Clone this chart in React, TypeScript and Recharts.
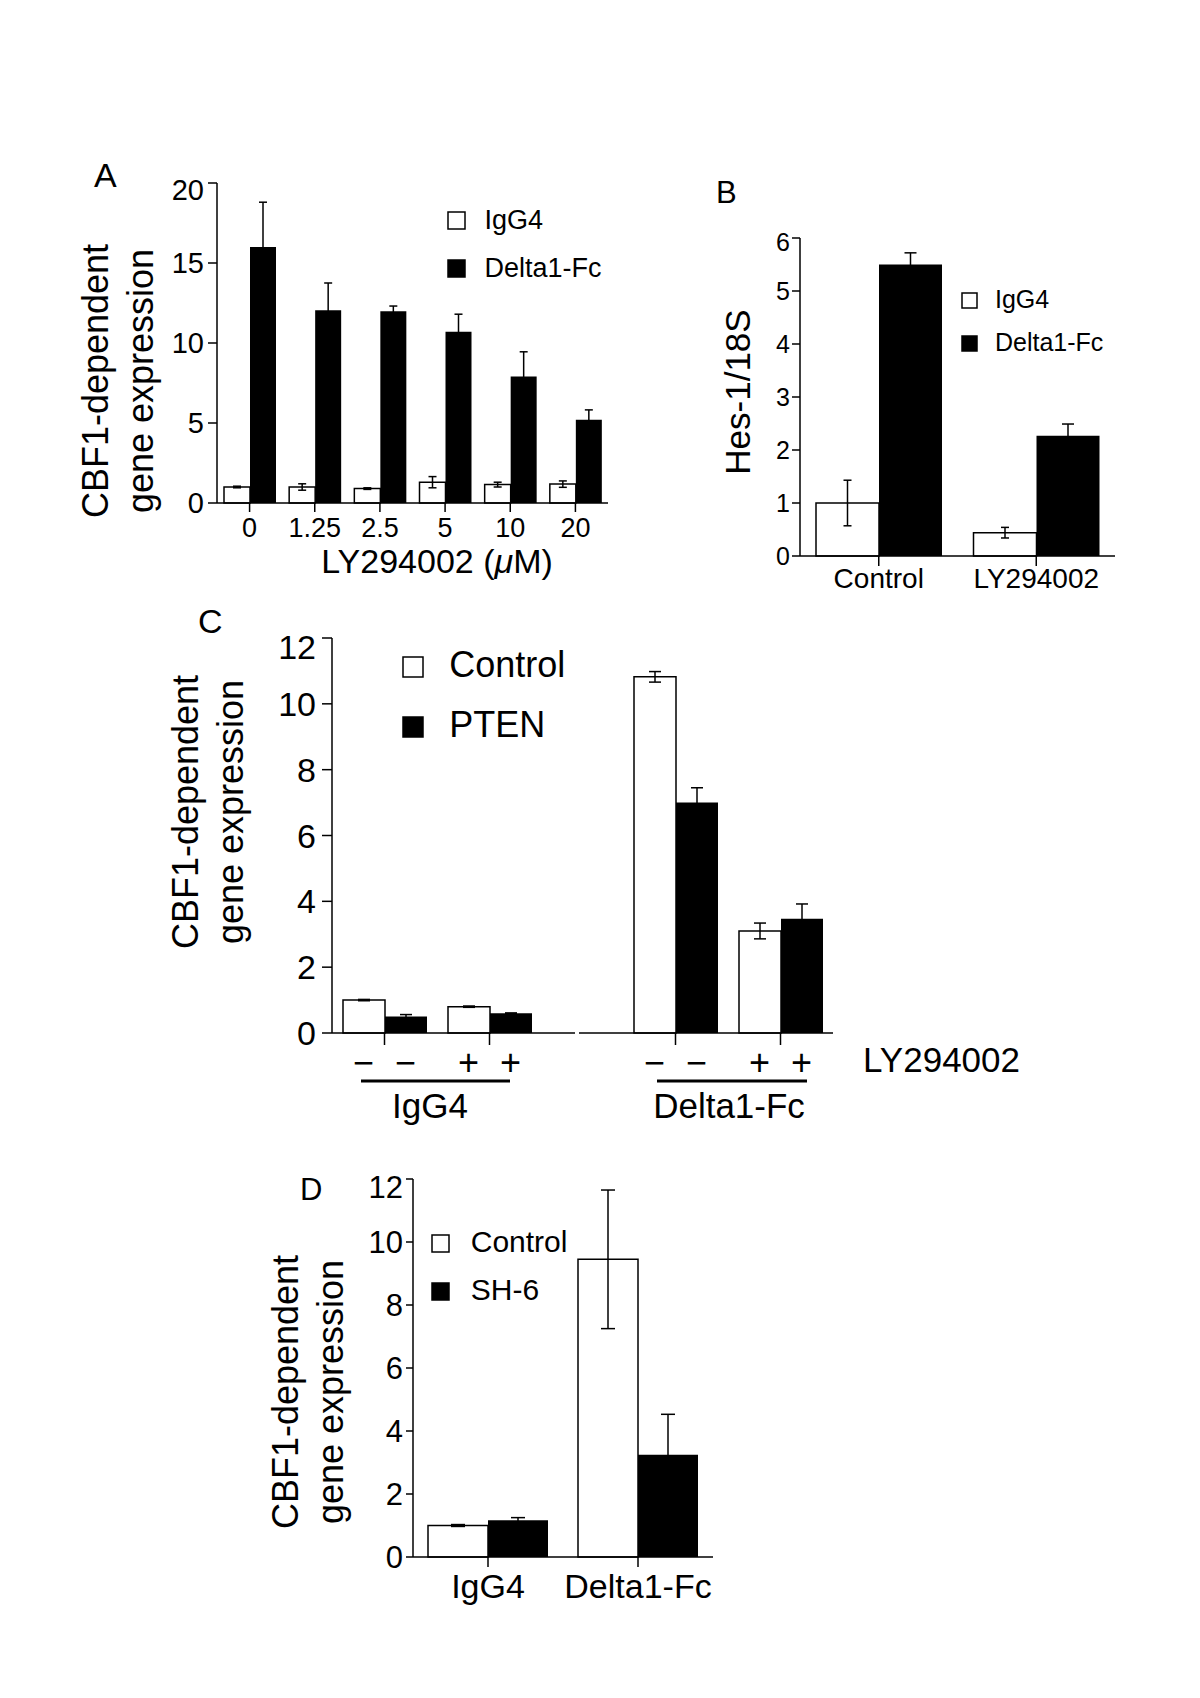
import { BarChart, Bar, XAxis, YAxis, ErrorBar } from 'recharts'

const FONT = '"Liberation Sans", Arial, Helvetica, sans-serif'

// A: CBF1 reporter vs LY294002 dose
const aDoses = ['0', '1.25', '2.5', '5', '10', '20']
const aIgg4 = [1.0, 1.0, 0.9, 1.3, 1.15, 1.18]
const aIgg4Err = [0.05, 0.2, 0.05, 0.35, 0.15, 0.2]
const aDelta = [16.0, 12.05, 11.98, 10.7, 7.9, 5.2]
const aDeltaErr = [2.8, 1.7, 0.33, 1.1, 1.55, 0.62]

// B: Hes-1/18S
const bGroups = ['Control', 'LY294002']
const bIgg4 = [1.0, 0.44]
const bIgg4Err = [0.43, 0.1]
const bDelta = [5.5, 2.27]
const bDeltaErr = [0.22, 0.22]

// C: Control vs PTEN, +/- LY294002
const cLigand = ['IgG4', 'IgG4', 'Delta1-Fc', 'Delta1-Fc']
const cLy = ['−', '+', '−', '+']
const cControl = [1.0, 0.8, 10.82, 3.1]
const cControlErr = [0.02, 0.02, 0.16, 0.24]
const cPten = [0.5, 0.6, 7.0, 3.47]
const cPtenErr = [0.06, 0.01, 0.45, 0.45]

// D: Control vs SH-6
const dGroups = ['IgG4', 'Delta1-Fc']
const dControl = [1.0, 9.45]
const dControlErr = [0.03, 2.2]
const dSh6 = [1.17, 3.25]
const dSh6Err = [0.08, 1.28]

const aData = aDoses.map((dose, i) => ({
  dose, igg4: aIgg4[i], igg4Err: aIgg4Err[i], delta: aDelta[i], deltaErr: aDeltaErr[i],
}))
const bData = bGroups.map((group, i) => ({
  group, igg4: bIgg4[i], igg4Err: bIgg4Err[i], delta: bDelta[i], deltaErr: bDeltaErr[i],
}))
const cData = cLigand.map((ligand, i) => ({
  key: `${ligand} ${cLy[i]}`, ly: cLy[i],
  control: cControl[i], controlErr: cControlErr[i], pten: cPten[i], ptenErr: cPtenErr[i],
}))
const dData = dGroups.map((group, i) => ({
  group, control: dControl[i], controlErr: dControlErr[i], sh6: dSh6[i], sh6Err: dSh6Err[i],
}))

const line = { stroke: '#000', strokeWidth: 1.5 }
const tickFont = (size: number) => ({ fill: '#000', fontSize: size, fontFamily: FONT })

const C_BAR = 42

function LyTick(props: any) {
  const { x, y, payload } = props
  const row = cData.find((r) => r.key === payload.value)
  return (
    <g>
      {[-C_BAR / 2, C_BAR / 2].map((dx) => (
        <text key={dx} x={x + dx} y={y + 30} textAnchor="middle" fontSize={36} fontFamily={FONT} fill="#000">
          {row ? row.ly : ''}
        </text>
      ))}
    </g>
  )
}

function PanelA() {
  return (
    <div style={{ position: 'absolute', left: 157, top: 173 }}>
      <BarChart width={461} height={410} data={aData} margin={{ top: 10, right: 10, bottom: 0, left: 0 }} barGap={0} barSize={26}>
        <XAxis dataKey="dose" interval={0} height={80} axisLine={line} tickLine={line} tickSize={9} tickMargin={6} tick={tickFont(27)} />
        <YAxis domain={[0, 20]} ticks={[0, 5, 10, 15, 20]} width={60} axisLine={line} tickLine={line} tickSize={9} tickMargin={4} tick={tickFont(29)} />
        <Bar dataKey="igg4" fill="#fff" stroke="#000" strokeWidth={1.5} isAnimationActive={false}>
          <ErrorBar dataKey="igg4Err" width={4} stroke="#000" strokeWidth={1.5} isAnimationActive={false} />
        </Bar>
        <Bar dataKey="delta" fill="#000" isAnimationActive={false}>
          <ErrorBar dataKey="deltaErr" width={4} stroke="#000" strokeWidth={1.5} isAnimationActive={false} />
        </Bar>
      </BarChart>
    </div>
  )
}

function PanelB() {
  return (
    <div style={{ position: 'absolute', left: 750, top: 228 }}>
      <BarChart width={375} height={388} data={bData} margin={{ top: 10, right: 10, bottom: 0, left: 0 }} barGap={0} barSize={63}>
        <XAxis dataKey="group" interval={0} height={60} axisLine={line} tickLine={line} tickSize={10} tickMargin={2} tick={tickFont(28)} />
        <YAxis domain={[0, 6]} ticks={[0, 1, 2, 3, 4, 5, 6]} width={50} axisLine={line} tickLine={line} tickSize={8} tickMargin={2} tick={tickFont(25)} />
        <Bar dataKey="igg4" fill="#fff" stroke="#000" strokeWidth={1.5} isAnimationActive={false}>
          <ErrorBar dataKey="igg4Err" width={4} stroke="#000" strokeWidth={1.5} isAnimationActive={false} />
        </Bar>
        <Bar dataKey="delta" fill="#000" isAnimationActive={false}>
          <ErrorBar dataKey="deltaErr" width={6} stroke="#000" strokeWidth={1.5} isAnimationActive={false} />
        </Bar>
      </BarChart>
    </div>
  )
}

// C has a broken x axis, so it is drawn as two charts sharing the y scale
function PanelCPart({ rows, left, width, showY, padding }: any) {
  return (
    <div style={{ position: 'absolute', left, top: 628 }}>
      <BarChart width={width} height={485} data={rows} margin={{ top: 10, right: showY ? 0 : 10, bottom: 0, left: 0 }} barGap={0} barSize={C_BAR}>
        <XAxis dataKey="key" interval={0} height={80} padding={padding} axisLine={line} tickLine={line} tickSize={12} tickMargin={0} tick={(p: any) => <LyTick {...p} />} />
        <YAxis hide={!showY} domain={[0, 12]} ticks={[0, 2, 4, 6, 8, 10, 12]} width={60} axisLine={line} tickLine={line} tickSize={10} tickMargin={6} tick={tickFont(34)} />
        <Bar dataKey="control" fill="#fff" stroke="#000" strokeWidth={1.5} isAnimationActive={false}>
          <ErrorBar dataKey="controlErr" width={6} stroke="#000" strokeWidth={1.5} isAnimationActive={false} />
        </Bar>
        <Bar dataKey="pten" fill="#000" isAnimationActive={false}>
          <ErrorBar dataKey="ptenErr" width={6} stroke="#000" strokeWidth={1.5} isAnimationActive={false} />
        </Bar>
      </BarChart>
    </div>
  )
}

function PanelD() {
  return (
    <div style={{ position: 'absolute', left: 353, top: 1169 }}>
      <BarChart width={370} height={468} data={dData} margin={{ top: 10, right: 10, bottom: 0, left: 0 }} barGap={0} barSize={60}>
        <XAxis dataKey="group" interval={0} height={80} axisLine={line} tickLine={line} tickSize={10} tickMargin={7} tick={tickFont(34)} />
        <YAxis domain={[0, 12]} ticks={[0, 2, 4, 6, 8, 10, 12]} width={60} axisLine={line} tickLine={line} tickSize={7} tickMargin={3} tick={tickFont(31)} />
        <Bar dataKey="control" fill="#fff" stroke="#000" strokeWidth={1.5} isAnimationActive={false}>
          <ErrorBar dataKey="controlErr" width={7} stroke="#000" strokeWidth={1.5} isAnimationActive={false} />
        </Bar>
        <Bar dataKey="sh6" fill="#000" isAnimationActive={false}>
          <ErrorBar dataKey="sh6Err" width={7} stroke="#000" strokeWidth={1.5} isAnimationActive={false} />
        </Bar>
      </BarChart>
    </div>
  )
}

function YLabel({ x, y, lines, size }: { x: number[]; y: number; lines: string[]; size: number }) {
  return (
    <>
      {lines.map((t, i) => (
        <text key={t} x={x[i]} y={y} transform={`rotate(-90, ${x[i]}, ${y})`} textAnchor="middle" fontSize={size}>
          {t}
        </text>
      ))}
    </>
  )
}

function Key({ x, y, size, gap, box, names, font }: any) {
  return (
    <>
      {names.map((name: string, i: number) => (
        <g key={name}>
          <rect x={x} y={y + i * gap} width={box} height={box} fill={i === 0 ? '#fff' : '#000'} stroke="#000" strokeWidth={1.5} />
          <text x={x + box + size * 0.75} y={y + i * gap + box - 0.5} fontSize={font}>{name}</text>
        </g>
      ))}
    </>
  )
}

function Annotations() {
  const cbf1 = ['CBF1-dependent', 'gene expression']
  return (
    <svg width={1200} height={1698} style={{ position: 'absolute', left: 0, top: 0, pointerEvents: 'none' }} fontFamily={FONT} fill="#000">
      {/* A */}
      <text x={94} y={187} fontSize={34}>A</text>
      <YLabel x={[108, 153]} y={381} lines={cbf1} size={36} />
      <text x={437} y={573} textAnchor="middle" fontSize={34}>
        LY294002 (<tspan fontStyle="italic">μ</tspan>M)
      </text>
      <Key x={448} y={212} size={26} gap={48} box={17} names={['IgG4', 'Delta1-Fc']} font={27} />

      {/* B */}
      <text x={716} y={203} fontSize={31}>B</text>
      <YLabel x={[750]} y={392} lines={['Hes-1/18S']} size={35} />
      <Key x={962} y={293} size={24} gap={43} box={15} names={['IgG4', 'Delta1-Fc']} font={25} />

      {/* C */}
      <text x={198} y={633} fontSize={34}>C</text>
      <YLabel x={[198, 243]} y={812} lines={cbf1} size={36} />
      <Key x={403} y={657} size={35} gap={60} box={20} names={['Control', 'PTEN']} font={36} />
      <text x={863} y={1072} fontSize={35}>LY294002</text>
      <line x1={361} x2={510} y1={1081} y2={1081} stroke="#000" strokeWidth={3} />
      <line x1={657} x2={807} y1={1081} y2={1081} stroke="#000" strokeWidth={3} />
      <text x={430} y={1118} textAnchor="middle" fontSize={35}>IgG4</text>
      <text x={729} y={1118} textAnchor="middle" fontSize={35}>Delta1-Fc</text>

      {/* D */}
      <text x={300} y={1200} fontSize={31}>D</text>
      <YLabel x={[298, 343]} y={1392} lines={cbf1} size={36} />
      <Key x={432} y={1235} size={29} gap={48} box={17} names={['Control', 'SH-6']} font={30} />
    </svg>
  )
}

export default function App() {
  return (
    <div style={{ position: 'absolute', left: 0, top: 0, width: 1200, height: 1698, background: '#fff', fontFamily: FONT }}>
      <PanelA />
      <PanelB />
      <PanelCPart rows={cData.slice(0, 2)} left={272} width={303} showY padding={{ left: 0, right: 33 }} />
      <PanelCPart rows={cData.slice(2)} left={579} width={264} showY={false} padding={{ left: 44, right: 0 }} />
      <PanelD />
      <Annotations />
    </div>
  )
}
